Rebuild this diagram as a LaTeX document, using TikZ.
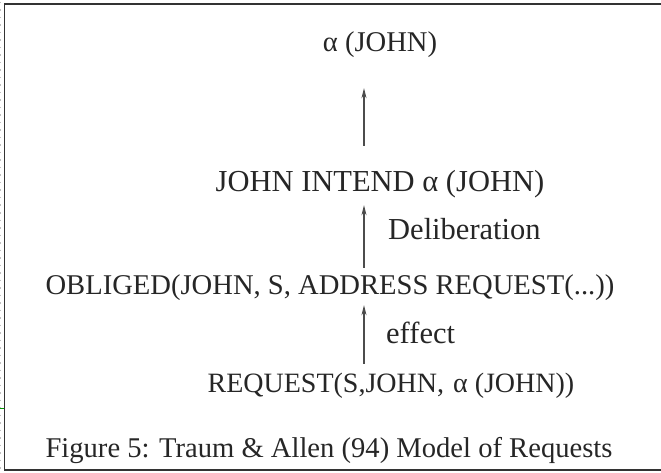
\documentclass[tikz,border=0pt]{standalone}
\usepackage{fontspec}
\setmainfont{Liberation Serif}
\usetikzlibrary{arrows.meta,calc}
\tikzset{
  lbl/.style={anchor=base, inner sep=0pt, text height=21pt, text depth=6pt,
    font=\fontsize{28.6}{34}\selectfont, text=black!85},
  big/.style={font=\fontsize{30.5}{34}\selectfont},
  flow/.style={draw=black!70, line width=1.2pt, -{Stealth[length=10pt,width=5pt]}},
  frame/.style={draw=black!80, line width=1.6pt},
}
\begin{document}
\begin{tikzpicture}[x=1pt,y=-1pt]
\useasboundingbox (0,0) rectangle (661,473);
% frame
\draw[frame] (661,4) -- (4.5,4) -- (4.5,470) -- (661,470);
\draw[black!25, line width=0.8pt, dash pattern=on 1.5pt off 6pt] (0,2) -- (0,473);
\draw[green!60!black, line width=0.8pt] (0,408) -- (4,408);
% statements
\node[lbl] (goal)   at (380,52)  {α (JOHN)};
\node[lbl, big] (intend) at (380,192) {JOHN INTEND α (JOHN)};
\node[lbl] (oblig)  at (330,294) {OBLIGED(JOHN, S, ADDRESS REQUEST(...))};
\node[lbl, font=\fontsize{28}{34}\selectfont] (req) at (391,392) {REQUEST(S,JOHN,\hspace{9pt}α (JOHN))};
\coordinate (axis) at (364,0);
% links
\draw[flow, shorten <=7pt, shorten >=5pt] (req.north -| axis) -- (oblig.south -| axis);
\draw[flow, shorten <=5pt, shorten >=7pt] (oblig.north -| axis) -- (intend.south -| axis);
\draw[flow, shorten <=25pt, shorten >=30pt] (intend.north -| axis) -- (goal.south -| axis);
\node[lbl, big, anchor=base west] (eff) at (386,343) {effect};
\node[lbl, big, anchor=base west] (delib) at (388,240) {Deliberation};
% caption
\node[lbl] (cap) at (329,457) {Figure 5: Traum \& Allen (94) Model of Requests};
\end{tikzpicture}
\end{document}
